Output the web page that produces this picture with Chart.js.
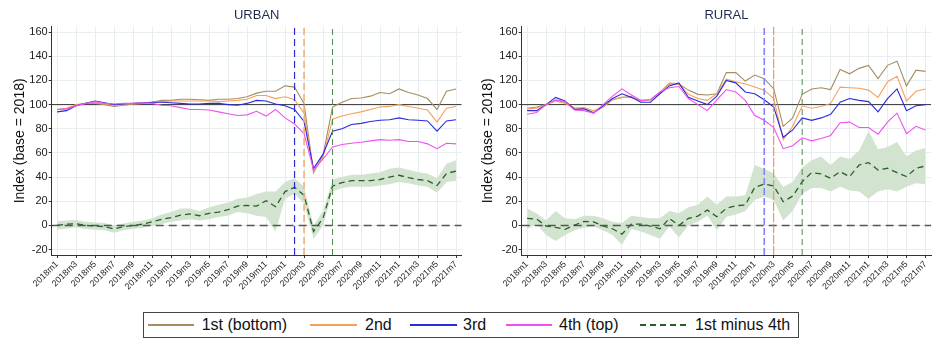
<!DOCTYPE html>
<html><head><meta charset="utf-8">
<script src="https://cdn.jsdelivr.net/npm/chart.js@4.4.0/dist/chart.umd.min.js"></script>
<style>
html,body{margin:0;padding:0;background:#fff;}
body{width:934px;height:344px;position:relative;overflow:hidden;font-family:"Liberation Sans",Arial,sans-serif;}
.panel{position:absolute;top:0;width:467px;height:290px;}
#legend{position:absolute;left:142.7px;top:311.7px;width:656.6px;height:26.6px;border:1px solid #444;box-sizing:border-box;}
.sw{position:absolute;top:324px;height:2px;}
.lt{position:absolute;top:316px;font-size:16px;line-height:18px;color:#111;white-space:nowrap;}
</style></head><body>
<div class="panel" style="left:0"><canvas id="urban" width="467" height="290"></canvas></div>
<div class="panel" style="left:467px"><canvas id="rural" width="467" height="290"></canvas></div>
<div id="legend"></div>
<div class="sw" style="left:148px;width:46px;background:#a48e62"></div><div class="lt" id="l0" style="left:201.7px"></div>
<div class="sw" style="left:310px;width:47px;background:#f5a15a"></div><div class="lt" id="l1" style="left:365px"></div>
<div class="sw" style="left:410px;width:47px;background:#2a2ae0"></div><div class="lt" id="l2" style="left:463px"></div>
<div class="sw" style="left:506px;width:46px;background:#f050f0"></div><div class="lt" id="l3" style="left:559px"></div>
<div class="sw" style="left:640px;width:48px;background:repeating-linear-gradient(to right,#2a5e2a 0 6px,transparent 6px 10px)"></div><div class="lt" id="l4" style="left:695px"></div>
<script>
const months = ['2018m1','2018m2','2018m3','2018m4','2018m5','2018m6','2018m7','2018m8','2018m9','2018m10','2018m11','2018m12',
'2019m1','2019m2','2019m3','2019m4','2019m5','2019m6','2019m7','2019m8','2019m9','2019m10','2019m11','2019m12',
'2020m1','2020m2','2020m3','2020m4','2020m5','2020m6','2020m7','2020m8','2020m9','2020m10','2020m11','2020m12',
'2021m1','2021m2','2021m3','2021m4','2021m5','2021m6','2021m7'];
const yTicks = [-20,0,20,40,60,80,100,120,140,160];
const seriesNames = ['1st (bottom)','2nd','3rd','4th (top)','1st minus 4th'];
const panelTitles = ['URBAN','RURAL'];
const yAxisTitle = 'Index (base = 2018)';
const eventMonths = ['2020m2','2020m3','2020m6'];
const baseLevel = 100;
const zeroLevel = 0;

// URBAN
const urbanQ1 = [96,96.5,99.5,101,101,100,98.5,99.5,100.5,101, 102,103.5,103.5,104.5,104.5,104,103.5,104.5,104.5,105, 106.5,109.5,111,111,115.5,114.5,101,43.5,58,98, 102,105,105.5,107,110,109,113,110,108,105, 96,111,113];
const urbanQ2 = [96,97,100,101,101.5,100.5,99.5,100,100.5,101, 102,102.5,103,103,103,103,103,102.5,103,103.5, 104.5,107.5,107.5,105,106.5,104,93,45,56,88, 90.5,92.5,94,96,98,98.5,100,98.5,97,95.5, 85.5,97,98.5];
const urbanQ3 = [94,95,99,101,103,101.5,100,100.5,101,101.5, 102,102,101.5,101,100.5,100.5,101,101,100,99.5, 101,103.5,103,100.5,99,96,86,47,59,78, 80,83.5,84.5,86,87,87.5,89,87.5,87,86.5, 78,86.5,87.5];
const urbanQ4 = [96,96.5,99,101,102.5,101,100.5,101,101,101.5, 101,99.5,99,97.5,96,96,95.5,94,92.5,91, 91.5,94.5,90.5,96,89,84,76,46,55,65, 67,68,68.8,70,71,70.5,71,69.5,69.5,67.5, 63.5,68,67.5];
const urbanDiff = [0,1,1.5,0,-0.5,-1,-3,-1,0,1, 3,5,6.5,8.5,9.5,8,10,11,13,16, 16.5,16,20.5,15.5,28,31.5,25,-5,6,32.5, 35.5,37,37,37,38,40,41.5,39.5,38,37, 33,43,45];
const urbanLo = [-3.5,-2.5,-1.5,-3,-3.5,-4,-6,-4,-3,-2, 0,1,3,4,5,4,5,7,8,11, 10,8,7,-5,22,26,18,-11,0,28, 31,32,32,32,33,34,36,35,33,32, 27,36,37];
const urbanHi = [3.5,4,4.5,3,2.5,2,0,1.5,3,4, 6,9,11,14,14,12,15,17,19,22, 23,26,28,28,36,39,32,0,12,38, 40,42,42,43,44,47,48,46,44,43, 39,51,54];

// RURAL
const ruralQ1 = [97,98,100,103.5,102,97,97,93.5,98,104, 106,106.5,103,104,110,117,117,112,108.5,108, 109,126.5,126.5,119.5,124.5,121.5,113,82,89,108.5, 113,114,112.5,129,125.5,130,132.5,121.5,132.5,136, 115.5,128.5,127.5];
const ruralQ2 = [96.5,97,100,103,101,97,97.5,95,98,104, 106,106,103.5,104,110,118,117,108.5,105,103.5, 109,121,119,117,114.5,112,105,71,82,99, 97,98.5,101,114.5,114,113.5,112,106,119,123.5, 103,111,113];
const ruralQ3 = [95,95,100,106,103,96,96.5,93,99,105, 109,106,102,102,109,115.5,118,106,103,100, 107,120,118,110.5,109,104,98,73,79,89, 87,89,92,102,105,103.5,102.5,94,105,113, 95,99,100];
const ruralQ4 = [92,93.5,100,104,102.5,95.5,95,93,100,107, 113,108,103.5,104,110.5,114,115,105,100,95, 104,112.5,110.5,103.5,91,87,81,63.5,66,72.5, 70,72,74.5,85,85.5,81,81,75.5,85.5,93, 76,82,79];
const ruralDiff = [5.8,5.3,-0.5,-1.7,-3.3,0.3,3.3,3,-0.5,-2.8, -7.2,1.1,1.1,-0.5,-2.8,5.8,0,5.8,7.7,12.7, 7.2,14.1,16.3,16.9,31.5,34.3,32.6,19.6,24.3,36.2, 43.7,42.6,39,44.5,40.4,50,52,45.9,47.3,43.7, 40.4,47.3,49.2];
const ruralLo = [-3,1,-8,-13,-8,-4,-2,-1,-4,-8, -16,-3,-5,-8,-11,-1,-10,0,3,8, -4,7,9,12,21,24,21,4,12,26, 31,31,28,32,29,28,22,28,30,28, 32,35,34];
const ruralHi = [14,10,4,12,6,5,8,8,6,3, 2,8,7,6,6,12,10,15,17,24, 17,24,24,25,50,47,43,32,36,48, 54,57,50,57,55,62,78,63,65,69, 57,62,64];

seriesNames.forEach((n,i)=>{document.getElementById('l'+i).textContent=n;});

const FONT = '"Liberation Sans", Arial, sans-serif';
const X_MIN = -0.57, X_MAX = 42.6, Y_MIN = -24.5, Y_MAX = 164.5;
const COL = {q1:'#a48e62', q2:'#f5a15a', q3:'#2a2ae0', q4:'#f050f0', diff:'#2a5e2a', band:'#d2e4cf'};

function pts(arr){ return arr.map((v,i)=>({x:i,y:v})); }
function vline(m){ const i = months.indexOf(m); return [{x:i,y:Y_MIN},{x:i,y:Y_MAX}]; }
function hline(v){ return [{x:X_MIN,y:v},{x:X_MAX,y:v}]; }
function lineDs(data,color,width,dash,order){
  return {data, borderColor:color, borderWidth:width, borderDash:dash||[], pointRadius:0, fill:false, tension:0, order};
}

function makeChart(id, P){
  const vStyles = P.vStyles;
  const datasets = [
    {data:pts(P.lo), borderWidth:0, borderColor:'rgba(0,0,0,0)', pointRadius:0, fill:false, order:60},
    {data:pts(P.hi), borderWidth:0, borderColor:'rgba(0,0,0,0)', backgroundColor:COL.band, pointRadius:0, fill:'-1', order:59},
    lineDs(hline(zeroLevel),'#555',1.5,[8,5],50),
    lineDs(hline(baseLevel),'#333',1,[],45),
    lineDs(pts(P.q1),COL.q1,1.1,[],30),
    lineDs(pts(P.q2),COL.q2,1.1,[],29),
    lineDs(pts(P.q3),COL.q3,1.1,[],28),
    lineDs(pts(P.q4),COL.q4,1.1,[],27),
    lineDs(pts(P.diff),COL.diff,1.3,[6,4],26),
  ];
  eventMonths.forEach((m,k)=>{ const s=vStyles[k]; datasets.push(lineDs(vline(m),s.c,s.w,s.d,20)); });
  return new Chart(document.getElementById(id), {
    type:'line',
    data:{datasets},
    options:{
      responsive:false, animation:false, devicePixelRatio:1, events:[],
      layout:{padding:{left:0,right:P.padRight,top:0,bottom:0}},
      plugins:{
        legend:{display:false}, tooltip:{enabled:false},
        filler:{drawTime:'beforeDatasetsDraw', propagate:false},
        title:{display:true, text:P.title, fullSize:false, color:'#1f2d4d', font:{family:FONT,size:13,weight:'normal'}, padding:{top:8,bottom:3.1}}
      },
      scales:{
        x:{type:'linear', min:X_MIN, max:X_MAX,
          afterFit:s=>{s.height=35;},
          afterBuildTicks:s=>{ s.ticks = months.map((m,i)=>i).filter(i=>i%2===0).map(v=>({value:v})); },
          ticks:{autoSkip:false, minRotation:45, maxRotation:45, padding:1, color:'#222', font:{family:FONT,size:8.8}, callback:v=>months[v]},
          grid:{color:'#e8eef0', tickColor:'#333', tickLength:3, lineWidth:1},
          border:{color:'#333', width:1}
        },
        y:{type:'linear', min:Y_MIN, max:Y_MAX,
          afterFit:s=>{s.width=P.yWidth;},
          afterBuildTicks:s=>{ s.ticks = yTicks.map(v=>({value:v})); },
          ticks:{padding:1, color:'#222', font:{family:FONT,size:11}},
          grid:{color:'#e8eef0', tickColor:'#333', tickLength:3, lineWidth:1},
          border:{color:'#333', width:1},
          title:{display:true, text:yAxisTitle, color:'#111', font:{family:FONT,size:14}, padding:{top:P.titlePad,bottom:0}}
        }
      }
    }
  });
}

makeChart('urban', {title:panelTitles[0], q1:urbanQ1, q2:urbanQ2, q3:urbanQ3, q4:urbanQ4, diff:urbanDiff, lo:urbanLo, hi:urbanHi,
  padRight:5.3, yWidth:51.7, titlePad:11.6,
  vStyles:[{c:'#2b2bd6',w:1.2,d:[7,4]},{c:'#f2b07a',w:1.6,d:[7,4]},{c:'#4d8a4d',w:1,d:[6,4]}]});
makeChart('rural', {title:panelTitles[1], q1:ruralQ1, q2:ruralQ2, q3:ruralQ3, q4:ruralQ4, diff:ruralDiff, lo:ruralLo, hi:ruralHi,
  padRight:2.3, yWidth:54.7, titlePad:12.9,
  vStyles:[{c:'#8282ff',w:1.6,d:[7,3]},{c:'#ea8a3c',w:1,d:[9,2]},{c:'#4d8a4d',w:1,d:[6,4]}]});
</script>
</body></html>
